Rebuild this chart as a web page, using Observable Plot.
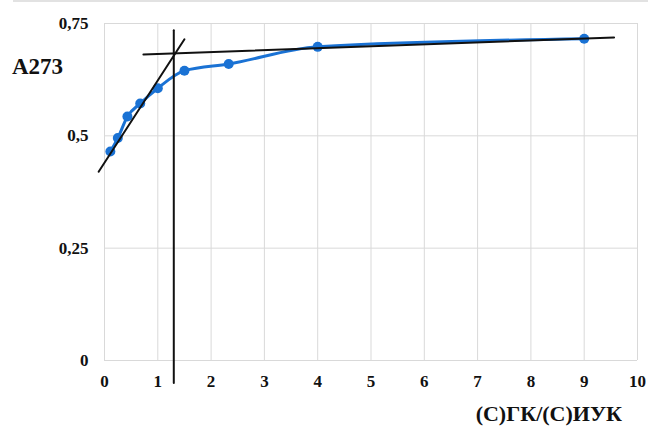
<!DOCTYPE html>
<html>
<head>
<meta charset="utf-8">
<script src="https://cdn.jsdelivr.net/npm/d3@7"></script>
<script src="https://cdn.jsdelivr.net/npm/@observablehq/plot@0.6"></script>
<style>
  html, body { margin: 0; padding: 0; background: #fff; }
  .serif { font-family: "Times New Roman", "Liberation Serif", "DejaVu Serif", serif; }
</style>
</head>
<body>
<div id="wrap" style="position:relative;width:648px;height:428px">
  <div style="position:absolute;left:13px;right:0;top:0;height:2px;background:#e2e2e2"></div>
  <div class="serif" style="position:absolute;left:12px;top:55px;font-weight:bold;font-size:23px;color:#111;line-height:1">A273</div>
  <div class="serif" style="position:absolute;right:26px;top:403px;font-weight:bold;font-size:22px;color:#111;line-height:1">(С)ГК/(С)ИУК</div>
</div>
<script>
// Experimental data: ratio (С)ГК/(С)ИУК vs absorbance A273
const ratio = [0.11, 0.25, 0.43, 0.67, 1, 1.5, 2.33, 4, 9];
const a273 = [0.465, 0.495, 0.543, 0.572, 0.606, 0.645, 0.660, 0.698, 0.716];

// Tangent construction lines
const tangent1X = [-0.11, 1.5];
const tangent1Y = [0.42, 0.715];
const tangent2X = [0.73, 9.56];
const tangent2Y = [0.681, 0.719];
const verticalX = [1.3, 1.3];
const verticalY = [-0.05, 0.735];

// Ticks
const xTicks = [0, 1, 2, 3, 4, 5, 6, 7, 8, 9, 10];
const yTicks = [0, 0.25, 0.5, 0.75];

const pts = ratio.map((x, i) => ({x, y: a273[i]}));
const toPts = (xs, ys) => xs.map((x, i) => ({x, y: ys[i]}));
const fmt = d => String(d).replace(".", ",");
const FONT = "Times New Roman, Liberation Serif, serif";

const chart = Plot.plot({
  width: 648,
  height: 428,
  marginLeft: 104,
  marginRight: 11,
  marginTop: 23,
  marginBottom: 68,
  x: {domain: [0, 10], label: null, axis: null},
  y: {domain: [0, 0.75], label: null, axis: null},
  marks: [
    Plot.gridX(xTicks, {stroke: "#d9d9d9", strokeOpacity: 1, strokeWidth: 1}),
    Plot.gridY(yTicks, {stroke: "#d9d9d9", strokeOpacity: 1, strokeWidth: 1}),
    Plot.text(xTicks, {x: d => d, frameAnchor: "bottom", dy: 26, text: d => String(d), textAnchor: "middle", fontSize: 17, fontWeight: "bold", fontFamily: FONT, fill: "#111"}),
    Plot.text(yTicks, {y: d => d, frameAnchor: "left", dx: -16, text: fmt, textAnchor: "end", fontSize: 17, fontWeight: "bold", fontFamily: FONT, fill: "#111"}),
    Plot.line(pts, {x: "x", y: "y", stroke: "#1a72d4", strokeWidth: 3, curve: "monotone-x"}),
    Plot.dot(pts, {x: "x", y: "y", fill: "#1a72d4", r: 5}),
    Plot.line(toPts(tangent1X, tangent1Y), {x: "x", y: "y", stroke: "#111", strokeWidth: 2}),
    Plot.line(toPts(tangent2X, tangent2Y), {x: "x", y: "y", stroke: "#111", strokeWidth: 2}),
    Plot.line(toPts(verticalX, verticalY), {x: "x", y: "y", stroke: "#111", strokeWidth: 2})
  ]
});
chart.style.position = "absolute";
chart.style.left = "0";
chart.style.top = "0";
document.getElementById("wrap").prepend(chart);
</script>
</body>
</html>
